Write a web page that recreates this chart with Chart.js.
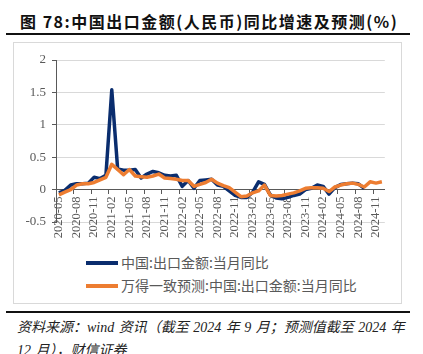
<!DOCTYPE html>
<html>
<head>
<meta charset="utf-8">
<script src="https://cdn.jsdelivr.net/npm/chart.js@4.4.1/dist/chart.umd.min.js"></script>
<style>
  body { margin: 0; background: #fff; width: 423px; height: 354px; overflow: hidden; position: relative; font-family: "Noto Sans CJK SC", sans-serif; }
  #title { position: absolute; left: 20px; top: 9px; font-size: 16px; font-weight: bold; letter-spacing: 1.5px; color: #111; white-space: nowrap; }
  .rule { position: absolute; left: 6px; width: 404px; height: 2px; background: #111; }
  #box { position: absolute; left: 13px; top: 42px; width: 387px; height: 260px; border: 1px solid #d9d9d9; }
  #c { position: absolute; left: 15px; top: 43px; }
  .leg { position: absolute; left: 86px; font-size: 14px; color: #595959; white-space: nowrap; line-height: 18px; }
  .leg i { display: inline-block; width: 32px; height: 4px; vertical-align: middle; margin-right: 3px; position: relative; top: -1px; }
  #src { position: absolute; left: 17px; top: 316px; font-family: "Liberation Serif", "Noto Sans CJK SC", serif; font-style: italic; font-size: 14px; line-height: 23px; color: #222; white-space: nowrap; word-spacing: 1px; }
</style>
</head>
<body>
<div id="title">图 78:中国出口金额(人民币)同比增速及预测(%)</div>
<div class="rule" style="top:33px"></div>
<div id="box"></div>
<canvas id="c" width="385" height="200"></canvas>
<div class="leg" style="top:253px"><i style="background:#0a2d6e"></i>中国:出口金额:当月同比</div>
<div class="leg" style="top:276px"><i style="background:#ed7d31"></i>万得一致预测:中国:出口金额:当月同比</div>
<div class="rule" style="top:311px"></div>
<div id="src">资料来源：wind 资讯（截至 2024 年 9 月；预测值截至 2024 年<br>12 月），财信证券</div>
<script>
const months = [
  '2020-05','2020-06','2020-07','2020-08','2020-09','2020-10','2020-11','2020-12',
  '2021-01','2021-02','2021-03','2021-04','2021-05','2021-06','2021-07','2021-08',
  '2021-09','2021-10','2021-11','2021-12','2022-01','2022-02','2022-03','2022-04',
  '2022-05','2022-06','2022-07','2022-08','2022-09','2022-10','2022-11','2022-12',
  '2023-01','2023-02','2023-03','2023-04','2023-05','2023-06','2023-07','2023-08',
  '2023-09','2023-10','2023-11','2023-12','2024-01','2024-02','2024-03','2024-04',
  '2024-05','2024-06','2024-07','2024-08','2024-09','2024-10','2024-11','2024-12'
];

// 中国:出口金额:当月同比 (实际值, 到 2024-09)
const actual = [
  -0.05, -0.01, 0.07, 0.09, 0.09, 0.10, 0.19, 0.17,
  0.22, 1.54, 0.32, 0.30, 0.30, 0.31, 0.18, 0.24,
  0.28, 0.26, 0.22, 0.21, 0.22, 0.05, 0.14, 0.02,
  0.14, 0.15, 0.16, 0.07, 0.05, -0.02, -0.09, -0.12,
  -0.12, -0.04, 0.12, 0.08, -0.08, -0.13, -0.14, -0.12,
  -0.09, -0.07, 0.00, 0.02, 0.07, 0.05, -0.07, 0.03,
  0.08, 0.09, 0.10, 0.09, 0.02, null, null, null
];

// 万得一致预测 (到 2024-12)
const forecast = [
  -0.08, -0.04, 0.00, 0.07, 0.09, 0.09, 0.11, 0.15,
  0.19, 0.39, 0.31, 0.23, 0.31, 0.21, 0.20, 0.19,
  0.21, 0.24, 0.18, 0.17, 0.16, 0.14, 0.14, 0.05,
  0.08, 0.11, 0.16, 0.10, 0.06, 0.03, -0.04, -0.11,
  -0.10, -0.05, -0.02, 0.07, -0.09, -0.10, -0.09, -0.07,
  -0.05, -0.02, 0.02, 0.03, 0.03, 0.02, -0.03, 0.04,
  0.07, 0.09, 0.10, 0.08, 0.04, 0.12, 0.10, 0.12
];

const yTicks = [-0.5, 0, 0.5, 1, 1.5, 2];

const axisGray = '#595959';

new Chart(document.getElementById('c'), {
  type: 'line',
  data: {
    labels: months,
    datasets: [
      {
        label: '万得一致预测:中国:出口金额:当月同比',
        data: forecast,
        borderColor: '#ed7d31',
        borderWidth: 3.5,
        pointRadius: 0,
        tension: 0,
        borderJoinStyle: 'round'
      },
      {
        label: '中国:出口金额:当月同比',
        data: actual,
        borderColor: '#0a2d6e',
        borderWidth: 3.5,
        pointRadius: 0,
        tension: 0,
        borderJoinStyle: 'round',
        spanGaps: false
      }
    ]
  },
  options: {
    responsive: false,
    animation: false,
    devicePixelRatio: 1,
    layout: { padding: { top: 17, right: 15, bottom: 21, left: 0 } },
    plugins: { legend: { display: false }, tooltip: { enabled: false } },
    scales: {
      x: {
        position: { y: 0 },
        offset: true,
        grid: {
          offset: true,
          drawOnChartArea: false,
          drawTicks: true,
          tickLength: 4,
          color: c => (c.index % 3 === 0 ? axisGray : 'rgba(0,0,0,0)')
        },
        border: { color: axisGray, width: 1 },
        ticks: {
          autoSkip: false,
          minRotation: 90,
          maxRotation: 90,
          padding: 3,
          color: axisGray,
          font: { family: 'Liberation Serif', size: 12.5 },
          callback: (v, i) => (i % 3 === 0 ? months[i] : '')
        }
      },
      y: {
        min: yTicks[0],
        max: yTicks[yTicks.length - 1],
        afterBuildTicks: s => { s.ticks = yTicks.map(v => ({ value: v })); },
        afterFit: s => { s.width = 41; },
        grid: { color: '#d9d9d9', tickColor: axisGray, tickLength: 4 },
        border: { color: axisGray, width: 1 },
        ticks: {
          padding: 6,
          color: axisGray,
          font: { family: 'Liberation Serif', size: 13 },
          callback: v => String(v)
        }
      }
    }
  }
});
</script>
</body>
</html>
